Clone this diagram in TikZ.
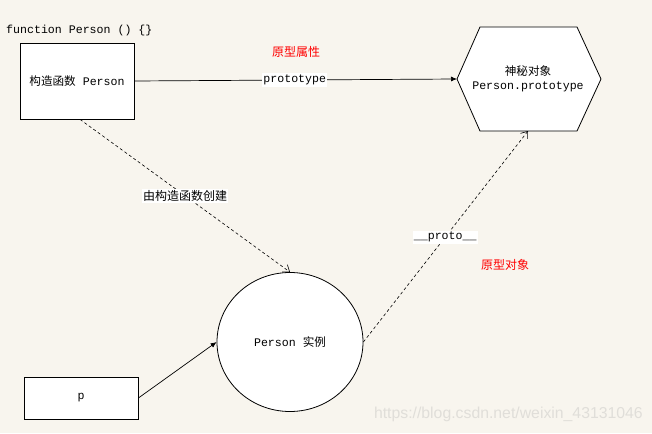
\documentclass[tikz,border=0pt]{standalone}
\usepackage{fontspec}
\setmainfont{Liberation Mono}
\newfontfamily\cjk{Noto Sans CJK SC}
\newfontfamily\wmfont{Liberation Sans}
\usetikzlibrary{arrows.meta,shapes.geometric}
\definecolor{bgc}{RGB}{248,245,238}
\definecolor{wm}{RGB}{224,222,217}
\tikzset{
  every node/.style={font=\fontsize{11.6}{13}\selectfont, inner sep=0pt},
  boxnode/.style={draw=black, fill=white, line width=0.8pt},
  solidlink/.style={draw=black, line width=0.7pt, -{Latex[length=6pt,width=5pt]}},
  dashlink/.style={draw=black, line width=0.6pt, dash pattern=on 3pt off 2.5pt, -{Straight Barb[length=6pt,width=9pt]}},
  lbl/.style={fill=white, inner xsep=1pt, inner ysep=1.5pt},
  redlbl/.style={text=red, font=\cjk\fontsize{12}{13}\selectfont}
}
\begin{document}
\begin{tikzpicture}[x=1pt,y=-1pt]
\fill[bgc] (0,0) rectangle (652,433);
\useasboundingbox (0,0) rectangle (652,433);

% title
\node[anchor=west] (title) at (6,31) {function Person () \{\}};

% constructor box
\node[boxnode, minimum width=114pt, minimum height=76pt] (ctor) at (77,81) {{\cjk 构造函数} Person};

% hexagon
\coordinate (hexL) at (457,79);
\coordinate (hexTL) at (480,27);
\coordinate (hexTR) at (577,27);
\coordinate (hexR) at (601,79);
\coordinate (hexBR) at (577,131);
\coordinate (hexB) at (528,131);
\coordinate (hexBL) at (480,131);
\draw[fill=white, line width=0.8pt] (hexL) -- (hexTL) -- (hexTR) -- (hexR) -- (hexBR) -- (hexBL) -- cycle;
\node[align=center] (hex) at (528,79) {{\cjk 神秘对象}\\[1pt]Person.prototype};

% instance ellipse
\node[ellipse, draw=black, fill=white, line width=0.8pt, minimum width=146pt, minimum height=139pt] (inst) at (290,342) {Person {\cjk 实例}};

% p box
\node[boxnode, minimum width=114pt, minimum height=42pt] (p) at (81,398) {p};

% connectors
\draw[solidlink] (ctor.east) -- node[lbl, pos=0.497] (protolbl) {prototype} (hexL);
\draw[dashlink] ([xshift=3pt]ctor.south) -- node[lbl, pos=0.5, font=\cjk\fontsize{12}{13}\selectfont] (createlbl) {由构造函数创建} (inst.north);
\draw[dashlink] (inst.east) -- node[lbl, pos=0.497] (protolbl2) {\_\_proto\_\_} (hexB);
\draw[solidlink] (p.east) -- (inst.west);

% red labels
\node[redlbl] (r1) at (296,52) {原型属性};
\node[redlbl] (r2) at (505,265) {原型对象};

% watermark
\node[text=wm, font=\wmfont\fontsize{15.8}{17}\selectfont, anchor=east] (wmark) at (643,414) {https://blog.csdn.net/weixin\_43131046};
\end{tikzpicture}
\end{document}
